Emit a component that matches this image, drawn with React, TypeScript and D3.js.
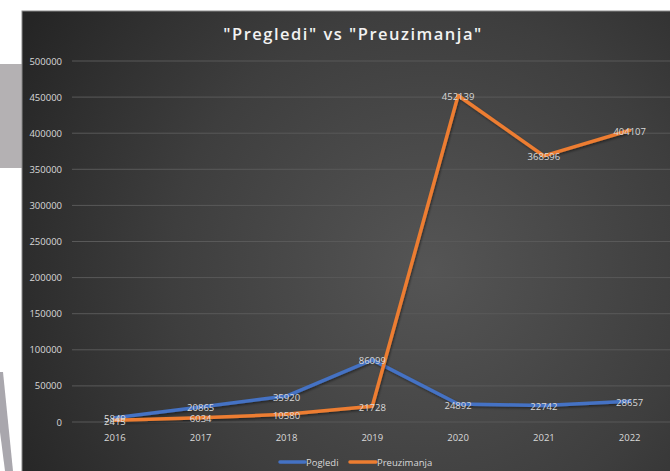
import React from "react";
import * as d3 from "d3";

const years = ["2016", "2017", "2018", "2019", "2020", "2021", "2022"];
const pogledi = [5849, 20865, 35920, 86099, 24892, 22742, 28657];
const preuzimanja = [2415, 6034, 10580, 21728, 452139, 368596, 404107];
const yTicks = [0, 50000, 100000, 150000, 200000, 250000, 300000, 350000, 400000, 450000, 500000];
const seriesNames = ["Pogledi", "Preuzimanja"];
const colors = ["#4472C4", "#ED7D31"];

const W = 670;
const H = 471;

export default function App() {
  const x = d3.scaleBand<string>().domain(years).range([72, 72 + 7 * 85.8]);
  const y = d3.scaleLinear().domain([0, 500000]).range([422, 61]);
  const cx = (yr: string) => (x(yr) as number) + x.bandwidth() / 2;
  const line = d3
    .line<number>()
    .x((_, i) => cx(years[i]))
    .y((v) => y(v));
  const series = [pogledi, preuzimanja];
  const font = "'Open Sans', 'DejaVu Sans', sans-serif";
  const labelColor = "#d9d9d9";

  return (
    <svg
      width={W}
      height={H}
      style={{ position: "absolute", left: 0, top: 0, display: "block" }}
    >
      <defs>
        <radialGradient id="bg" gradientUnits="userSpaceOnUse" cx={430} cy={270} r={470}>
          <stop offset="0" stopColor="#555555" />
          <stop offset="0.55" stopColor="#3e3e3e" />
          <stop offset="1" stopColor="#252525" />
        </radialGradient>
        <filter id="sh" x="-10%" y="-10%" width="120%" height="120%">
          <feDropShadow dx="1" dy="1.5" stdDeviation="1" floodColor="#000" floodOpacity="0.45" />
        </filter>
      </defs>
      <rect x={0} y={0} width={W} height={H} fill="#ffffff" />
      <rect x={0} y={64} width={22} height={104} fill="#b4b1b3" />
      <polygon points="0,372 3,372 13,471 5,471 0,432" fill="#a9a7ad" />
      <rect x={22} y={11} width={720} height={520} fill="url(#bg)" stroke="#8a8a8a" strokeWidth={1} />

      {yTicks.map((t) => (
        <g key={t}>
          <line x1={72} x2={W} y1={y(t)} y2={y(t)} stroke="#595959" strokeWidth={1} />
          <text
            x={62}
            y={y(t)}
            textAnchor="end"
            dominantBaseline="central"
            fontFamily={font}
            fontSize={9.5}
            fill={labelColor}
          >
            {t}
          </text>
        </g>
      ))}

      {years.map((yr) => (
        <text
          key={yr}
          x={cx(yr)}
          y={437}
          textAnchor="middle"
          dominantBaseline="central"
          fontFamily={font}
          fontSize={9.5}
          fill={labelColor}
        >
          {yr}
        </text>
      ))}

      <text
        x={353}
        y={33}
        textAnchor="middle"
        dominantBaseline="central"
        fontFamily={font}
        fontWeight={600}
        fontSize={16.5}
        letterSpacing={1.5}
        fill="#f2f2f2"
      >
        "Pregledi" vs "Preuzimanja"
      </text>

      {series.map((s, si) => (
        <path
          key={si}
          d={line(s) as string}
          fill="none"
          stroke={colors[si]}
          strokeWidth={3.5}
          strokeLinejoin="round"
          strokeLinecap="round"
          filter="url(#sh)"
        />
      ))}

      {series.map((s, si) =>
        s.map((v, i) => (
          <text
            key={`${si}-${i}`}
            x={cx(years[i])}
            y={y(v) + 1}
            textAnchor="middle"
            dominantBaseline="central"
            fontFamily={font}
            fontSize={9.5}
            fill={labelColor}
          >
            {v}
          </text>
        ))
      )}

      <g>
        <line x1={280} x2={305} y1={462} y2={462} stroke={colors[0]} strokeWidth={3.5} strokeLinecap="round" />
        <text x={306} y={462} dominantBaseline="central" fontFamily={font} fontSize={9.5} fill={labelColor}>
          {seriesNames[0]}
        </text>
        <line x1={350} x2={376} y1={462} y2={462} stroke={colors[1]} strokeWidth={3.5} strokeLinecap="round" />
        <text x={377} y={462} dominantBaseline="central" fontFamily={font} fontSize={9.5} fill={labelColor}>
          {seriesNames[1]}
        </text>
      </g>
    </svg>
  );
}
